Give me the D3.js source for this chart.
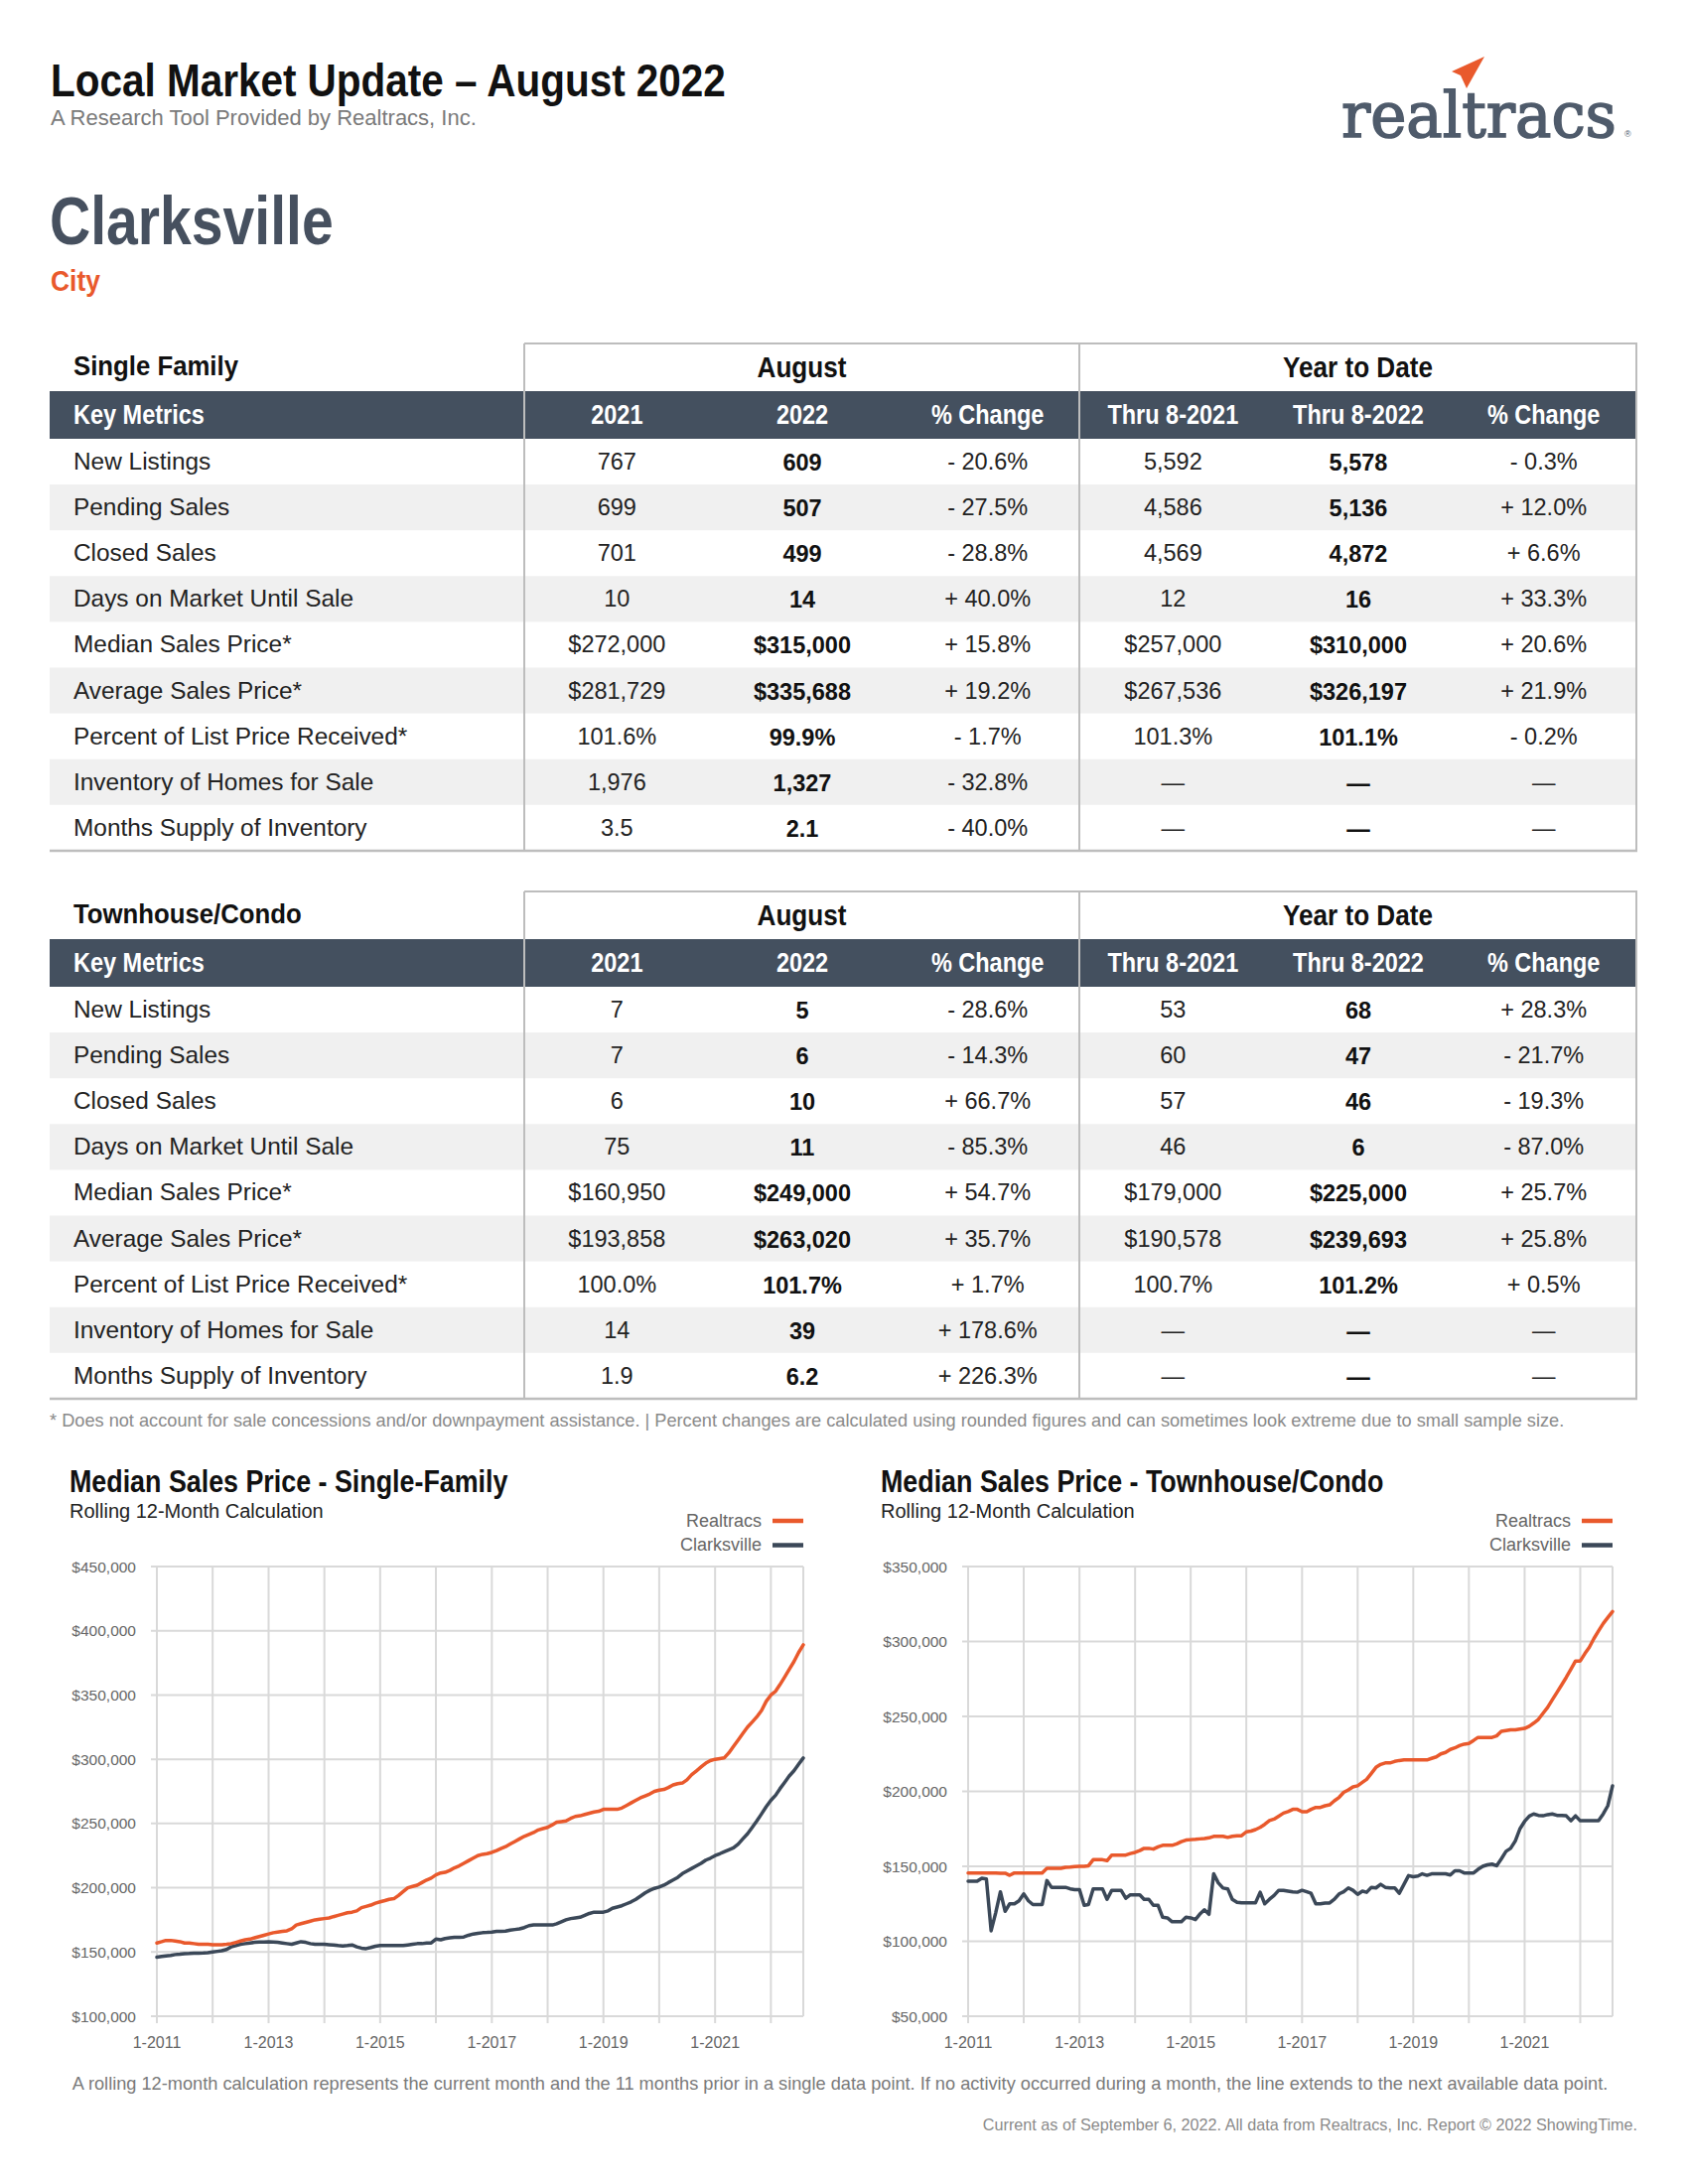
<!DOCTYPE html>
<html><head><meta charset="utf-8">
<script src="https://cdn.jsdelivr.net/npm/d3@7"></script>
<style>
html,body{margin:0;padding:0;background:#fff;}
svg{display:block;}
</style></head><body>
<svg id="page" width="1700" height="2200"></svg>
<script>
// ---------- TABLE DATA ----------
const metrics = ["New Listings","Pending Sales","Closed Sales","Days on Market Until Sale","Median Sales Price*","Average Sales Price*","Percent of List Price Received*","Inventory of Homes for Sale","Months Supply of Inventory"];
const columnHeaders = ["2021","2022","% Change","Thru 8-2021","Thru 8-2022","% Change"];
const sfAug2021 = ["767","699","701","10","$272,000","$281,729","101.6%","1,976","3.5"];
const sfAug2022 = ["609","507","499","14","$315,000","$335,688","99.9%","1,327","2.1"];
const sfAugChange = ["- 20.6%","- 27.5%","- 28.8%","+ 40.0%","+ 15.8%","+ 19.2%","- 1.7%","- 32.8%","- 40.0%"];
const sfYtd2021 = ["5,592","4,586","4,569","12","$257,000","$267,536","101.3%","—","—"];
const sfYtd2022 = ["5,578","5,136","4,872","16","$310,000","$326,197","101.1%","—","—"];
const sfYtdChange = ["- 0.3%","+ 12.0%","+ 6.6%","+ 33.3%","+ 20.6%","+ 21.9%","- 0.2%","—","—"];
const thAug2021 = ["7","7","6","75","$160,950","$193,858","100.0%","14","1.9"];
const thAug2022 = ["5","6","10","11","$249,000","$263,020","101.7%","39","6.2"];
const thAugChange = ["- 28.6%","- 14.3%","+ 66.7%","- 85.3%","+ 54.7%","+ 35.7%","+ 1.7%","+ 178.6%","+ 226.3%"];
const thYtd2021 = ["53","60","57","46","$179,000","$190,578","100.7%","—","—"];
const thYtd2022 = ["68","47","46","6","$225,000","$239,693","101.2%","—","—"];
const thYtdChange = ["+ 28.3%","- 21.7%","- 19.3%","- 87.0%","+ 25.7%","+ 25.8%","+ 0.5%","—","—"];

// ---------- CHART DATA (rolling 12-month median, thousands of $), monthly 1-2011 .. 8-2022 ----------
const startMonth = [2011, 0];
const sfRealtracs = [
157,158,159,159,158.5,158,157,157,156.5,156,156,156,
155.7,155.7,155.7,156,156.5,157.5,158.5,159.5,160,161,162,163,
164,165,165.5,166,166.5,168,171,172,173,174,175,175.5,
176,176.5,177.5,178.5,179.5,180.5,181,182,184.5,185.5,186.5,188,
189,190,191,191.5,194,197,200,201,202,204,206,207.5,
210,211.5,212,213.5,215.5,217,219,221,223,225,226,226.5,
227.5,229,230.5,232,234,236,238,240,241.5,243,245,246,
247,249,251,251.5,252,254,255.5,256,257,258,259,259.5,
261,261,261,261,262,264,266,268,270,271.5,273,275,
276,276.5,278,280,281,281.5,284,288,291,294,297,299,
300,300.5,301,305,310,315,320,325,329,333,338,345,
350,353,358,364,370,376,383,389];
const sfClarksville = [
146,146.5,147,147.4,148,148.3,148.7,148.8,149,149,149.2,149.5,
150,150.5,151,152,154,155,156,156.5,157,157.5,157.8,157.8,
158,157.8,157.5,157,156.5,156,157,158,157.5,156.5,156,156,
156,155.7,155.5,155,154.7,155,155.5,154,153,152.6,153.5,154.5,
155,155,155,155,155,155,155.5,156,156.5,156.5,157,157,
160,159.5,160.5,161,161.5,161.5,161.7,163,164,164.5,165,165.2,
165.5,166,166,166.2,167,167.5,168,169,170.5,171,171,171,
171,171,172,173.5,175,176,176.5,177,178.5,180,181,181,
181,182,184,185,186,187.5,189,191,193.5,196,198,199.5,
200.5,202,204,206,208,211,213,215,217,219,221.5,223,
225,226.5,228,229.5,231,234,238,242,247,252,257.5,263,
268,272,277,282,287,291,296,301];
const thRealtracs = [
145.6,145.6,145.6,145.6,145.6,145.6,145.6,145.4,145.4,144,145.6,145.6,
145.6,145.6,145.6,145.6,145.6,148.7,148.7,148.7,148.7,149.3,149.5,149.8,
150,150,150.4,154.4,154.4,154.4,153.8,157.5,157.5,157.5,157.5,158.5,
159.3,160.5,162,162,161.5,163,164,164,164,165,166.5,167.5,
167.8,168,168.3,168.6,169,170,170,170,169.3,170,170.4,170.4,
173,173.5,174.5,176,178,180.5,181.5,183.5,185.5,186.5,188,188,
186.4,186.4,188,189.3,189.3,190.4,191,193.7,196,199.3,201,203,
203.7,206,208,212,216,218,219,219,220,220.6,221,221,
221,221,221,221,222,223,225,226,228,229,230.5,231.5,
232,234,236,236,236,236,237,240,240.5,241,241,241.5,
242,243.5,245.5,248,252,256,261,266,271,276,281.5,287,
287,292,296,302,307,312,316,320];
const thClarksville = [
140,140,140,142,141.5,107,119,133,120,125,125,127,
131.6,127,124.5,124.5,124.5,140.5,136,136,136,136,135,134.5,
134.5,124,124.5,135,135,135,128,134,134,134,128.7,131,
131,131,128,128,124,124,116,115.6,113,113,113,116,
115.6,114.5,118,121,118,145,139,135.5,135,128,126,125.6,
125.6,125.6,125.6,132.7,125,128,130.5,134,134,133.5,133,132.7,
134,133,132,125,125,125.5,125.5,128,131.6,133,135.6,134,
131.3,133.4,132.7,136,135.6,138,136,135.6,135.6,132,138,143.8,
143,143.5,145,144,145,145,145,145,144.2,147,147,145.6,
145.6,145.6,148,150,151,151.5,150.4,155,160,162,167,175,
180,183.5,184.9,184,183.7,184.5,184.9,184,184,183.7,180.4,183.7,
180.4,180.4,180.4,180.4,180.4,185,190.4,203.7];
const sfYTicks = [100,150,200,250,300,350,400,450];
const thYTicks = [50,100,150,200,250,300,350];
const seriesNames = ["Realtracs","Clarksville"];

// ---------- STYLE ----------
const SLATE = "#44505f", ORANGE = "#e9592c", DARKLINE = "#3b4858";
const SANS = "'Liberation Sans', Arial, Helvetica, sans-serif";
const page = d3.select("#page");
page.append("rect").attr("width",1700).attr("height",2200).attr("fill","#fff");

function ctext(parent, x, y, str, size, o={}) {
  return parent.append("text")
    .attr("transform", `translate(${x},${y}) scale(${o.sx||1},1)`)
    .attr("text-anchor", o.anchor||"start")
    .attr("font-family", o.family||SANS)
    .attr("font-weight", o.weight||400)
    .attr("font-size", size)
    .attr("fill", o.fill||"#111")
    .text(str);
}

// ---------- HEADER ----------
ctext(page, 51, 97, "Local Market Update – August 2022", 46, {weight:700, sx:0.88, fill:"#111"});
ctext(page, 51, 126, "A Research Tool Provided by Realtracs, Inc.", 22, {fill:"#7a7a7a"});
// logo wordmark, squeezed to its width in the reference
const logo = ctext(page, 1351, 138, "realtracs", 64, {family:"'DejaVu Serif', 'Liberation Serif', serif", fill:"#4f5b6b"})
  .attr("stroke","#4f5b6b").attr("stroke-width",1.6);
const natural = logo.node().getComputedTextLength();
logo.attr("transform", `translate(1351,138) scale(${277/natural},1)`);
page.append("text").attr("x",1636).attr("y",138).attr("font-family",SANS).attr("font-size",9).attr("fill","#4f5b6b").text("®");
page.append("path").attr("d","M1495,57 L1462,72 L1471,76 L1477,89 Z").attr("fill",ORANGE);
ctext(page, 50, 246, "Clarksville", 68, {weight:700, sx:0.84, fill:"#46505f"});
ctext(page, 51, 293, "City", 30, {weight:700, sx:0.88, fill:ORANGE});

// ---------- TABLES ----------
function drawTable(top, title, cols) {
  const g = page.append("g");
  const L = 50, R = 1648, split = 528, mid = 1087;
  const darkTop = top + 48, rowsTop = top + 96, rowH = 46.1;
  const yRow = d3.scaleBand().domain(d3.range(metrics.length)).range([rowsTop, rowsTop + rowH*metrics.length]);
  const xCol = d3.scaleBand().domain(d3.range(columnHeaders.length)).range([split, R]);
  const bottom = rowsTop + rowH*metrics.length;
  g.selectAll("rect.band").data(metrics.map((m,i)=>i).filter(i=>i%2===1)).enter()
    .append("rect").attr("x",L).attr("width",R-L).attr("y",i=>yRow(i)).attr("height",yRow.bandwidth()).attr("fill","#f0f0f0");
  g.append("rect").attr("x",L).attr("width",R-L).attr("y",darkTop).attr("height",48).attr("fill",SLATE);
  const bc = "#bdbdbd";
  g.append("line").attr("x1",split).attr("x2",R+1).attr("y1",top).attr("y2",top).attr("stroke",bc).attr("stroke-width",2);
  g.append("line").attr("x1",L).attr("x2",R+1).attr("y1",bottom).attr("y2",bottom).attr("stroke",bc).attr("stroke-width",2.5);
  [split, mid, R].forEach(x => g.append("line").attr("x1",x).attr("x2",x).attr("y1",top).attr("y2",bottom).attr("stroke",bc).attr("stroke-width",2));
  ctext(g, 74, top+32, title, 28, {weight:700, sx:0.92});
  ctext(g, (split+mid)/2, top+34, "August", 29, {weight:700, sx:0.9, anchor:"middle"});
  ctext(g, (mid+R)/2, top+34, "Year to Date", 29, {weight:700, sx:0.9, anchor:"middle"});
  ctext(g, 74, darkTop+33, "Key Metrics", 27, {weight:700, sx:0.87, fill:"#fff"});
  columnHeaders.forEach((h,j) => ctext(g, xCol(j)+xCol.bandwidth()/2, darkTop+33, h, 27, {weight:700, sx:0.87, fill:"#fff", anchor:"middle"}));
  metrics.forEach((m,i) => {
    const by = yRow(i) + 31;
    g.append("text").attr("x",74).attr("y",by).attr("font-family",SANS).attr("font-size",24.4).attr("fill","#222").text(m);
    cols.forEach((col,j) => {
      g.append("text").attr("x", xCol(j)+xCol.bandwidth()/2).attr("y", by + (j===1||j===4 ? 1 : 0))
        .attr("text-anchor","middle").attr("font-family",SANS).attr("font-size",23.5)
        .attr("font-weight", (j===1||j===4) ? 700 : 400).attr("fill", (j===1||j===4) ? "#111" : "#222")
        .text(col[i]);
    });
  });
}
drawTable(346, "Single Family", [sfAug2021, sfAug2022, sfAugChange, sfYtd2021, sfYtd2022, sfYtdChange]);
drawTable(898, "Townhouse/Condo", [thAug2021, thAug2022, thAugChange, thYtd2021, thYtd2022, thYtdChange]);

page.append("text").attr("x",50).attr("y",1437).attr("font-family",SANS).attr("font-size",18.2).attr("fill","#8a8a8a")
  .text("* Does not account for sale concessions and/or downpayment assistance. | Percent changes are calculated using rounded figures and can sometimes look extreme due to small sample size.");

// ---------- CHARTS ----------
function drawChart(o) {
  const g = page.append("g");
  const top = 1578, bottom = 2031;
  const dates = o.series[0].map((v,i) => new Date(startMonth[0], startMonth[1]+i, 1));
  const x = d3.scaleTime().domain([dates[0], dates[dates.length-1]]).range([o.left, o.right]);
  const y = d3.scaleLinear().domain([o.yTicks[0], o.yTicks[o.yTicks.length-1]]).range([bottom, top]);
  const grid = "#d9d9d9";
  const years = d3.timeYear.range(dates[0], d3.timeMonth.offset(dates[dates.length-1],1));
  g.selectAll("line.vg").data(years.concat([dates[dates.length-1]])).enter().append("line")
    .attr("x1",d=>x(d)).attr("x2",d=>x(d)).attr("y1",top).attr("y2",(d,i)=> i<years.length ? bottom+7 : bottom).attr("stroke",grid).attr("stroke-width",2);
  g.selectAll("line.hg").data(o.yTicks).enter().append("line")
    .attr("x1",o.left-6).attr("x2",o.right).attr("y1",d=>y(d)).attr("y2",d=>y(d)).attr("stroke",grid).attr("stroke-width",2);
  g.selectAll("text.yl").data(o.yTicks).enter().append("text")
    .attr("x",o.left-21).attr("y",d=>y(d)+5.5).attr("text-anchor","end").attr("font-family",SANS).attr("font-size",15.5).attr("fill","#666")
    .text(d=>"$"+d3.format(",")(d*1000));
  g.selectAll("text.xl").data(years.filter(d=>(d.getFullYear()-2011)%2===0)).enter().append("text")
    .attr("x",d=>x(d)).attr("y",2063).attr("text-anchor","middle").attr("font-family",SANS).attr("font-size",16).attr("fill","#666")
    .text(d=>(d.getMonth()+1)+"-"+d.getFullYear());
  const line = d3.line().x((d,i)=>x(dates[i])).y(d=>y(d));
  [o.series[1], o.series[0]].forEach((s,k) => {
    g.append("path").attr("d",line(s)).attr("fill","none").attr("stroke", k===0?DARKLINE:ORANGE)
      .attr("stroke-width",3.5).attr("stroke-linejoin","round").attr("stroke-linecap","round");
  });
  ctext(g, o.titleX, 1503, o.title, 30.5, {weight:700, sx:0.88});
  g.append("text").attr("x",o.titleX).attr("y",1529).attr("font-family",SANS).attr("font-size",20).attr("fill","#222").text("Rolling 12-Month Calculation");
  seriesNames.forEach((n,k) => {
    const ly = 1532 + k*24.5;
    g.append("text").attr("x",o.right-42).attr("y",ly+5.5).attr("text-anchor","end").attr("font-family",SANS).attr("font-size",18).attr("fill","#666").text(n);
    g.append("line").attr("x1",o.right-31).attr("x2",o.right).attr("y1",ly).attr("y2",ly).attr("stroke",k===0?ORANGE:DARKLINE).attr("stroke-width",4.5);
  });
}
drawChart({left:158, right:809, titleX:70, title:"Median Sales Price - Single-Family", yTicks:sfYTicks, series:[sfRealtracs, sfClarksville]});
drawChart({left:975, right:1624, titleX:887, title:"Median Sales Price - Townhouse/Condo", yTicks:thYTicks, series:[thRealtracs, thClarksville]});

page.append("text").attr("x",846).attr("y",2105).attr("text-anchor","middle").attr("font-family",SANS).attr("font-size",18.2).attr("fill","#7a7a7a")
  .text("A rolling 12-month calculation represents the current month and the 11 months prior in a single data point. If no activity occurred during a month, the line extends to the next available data point.");
page.append("text").attr("x",1649).attr("y",2146).attr("text-anchor","end").attr("font-family",SANS).attr("font-size",16.2).attr("fill","#8a8a8a")
  .text("Current as of September 6, 2022. All data from Realtracs, Inc. Report © 2022 ShowingTime.");
</script>
</body></html>
